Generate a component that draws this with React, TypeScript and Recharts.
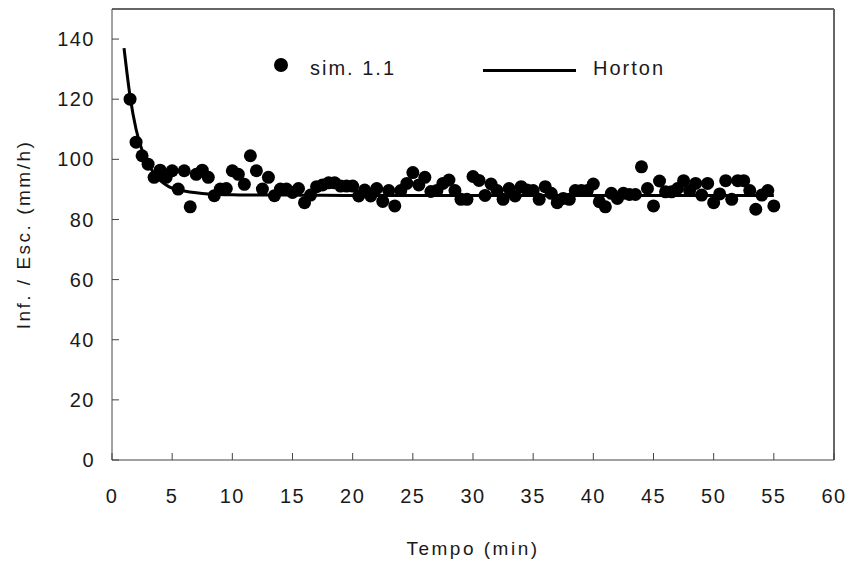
import {
  ComposedChart,
  Scatter,
  Line,
  XAxis,
  YAxis,
  ReferenceLine,
  Legend,
} from 'recharts'

// simulated infiltration rate, one reading every half minute
const simTime = [
  1.5, 2, 2.5, 3, 3.5, 4, 4.5, 5, 5.5, 6, 6.5, 7, 7.5, 8, 8.5, 9, 9.5, 10,
  10.5, 11, 11.5, 12, 12.5, 13, 13.5, 14, 14.5, 15, 15.5, 16, 16.5, 17, 17.5,
  18, 18.5, 19, 19.5, 20, 20.5, 21, 21.5, 22, 22.5, 23, 23.5, 24, 24.5, 25,
  25.5, 26, 26.5, 27, 27.5, 28, 28.5, 29, 29.5, 30, 30.5, 31, 31.5, 32, 32.5,
  33, 33.5, 34, 34.5, 35, 35.5, 36, 36.5, 37, 37.5, 38, 38.5, 39, 39.5, 40,
  40.5, 41, 41.5, 42, 42.5, 43, 43.5, 44, 44.5, 45, 45.5, 46, 46.5, 47, 47.5,
  48, 48.5, 49, 49.5, 50, 50.5, 51, 51.5, 52, 52.5, 53, 53.5, 54, 54.5, 55,
]
const simRate = [
  120, 105.7, 101.2, 98.4, 94, 96.4, 94, 96.2, 90.1, 96.2, 84.2, 95, 96.4, 94,
  87.9, 90.1, 90.3, 96.2, 95, 91.7, 101.2, 96.2, 90.1, 94, 87.9, 90.1, 90.1,
  89, 90.3, 85.6, 88.1, 90.9, 91.5, 92.2, 92.2, 91.1, 91.1, 91.1, 87.8, 89.8,
  87.8, 90.3, 86, 89.6, 84.5, 89.6, 92, 95.6, 91.5, 94, 89.3, 89.6, 92, 93.1,
  89.6, 86.7, 86.7, 94.3, 93, 88, 91.8, 89.6, 86.7, 90.3, 87.8, 90.9, 89.8,
  89.6, 86.7, 90.9, 88.7, 85.6, 87, 86.7, 89.6, 89.6, 89.6, 91.8, 85.9, 84.2,
  88.7, 87, 88.7, 88.3, 88.3, 97.5, 90.3, 84.5, 92.8, 89.2, 89.2, 90.3, 92.9,
  89.6, 92, 88.1, 92, 85.6, 88.5, 92.9, 86.7, 92.9, 92.9, 89.6, 83.4, 88.1,
  89.6, 84.5,
]

// fitted Horton curve
const hortonTime = [1, 1.5, 2, 2.5, 3, 3.5, 4, 4.5, 5, 6, 7, 8, 9, 10, 12, 15, 20, 30, 40, 55]
const hortonRate = [
  137, 121, 110, 103, 98.5, 95.3, 93, 91.5, 90.4, 89.5, 88.9, 88.5, 88.3, 88.2,
  88.1, 88.1, 88, 88, 88, 88,
]

const xTicks = [0, 5, 10, 15, 20, 25, 30, 35, 40, 45, 50, 55, 60]
const yTicks = [0, 20, 40, 60, 80, 100, 120, 140]

const simData = simTime.map((x, i) => ({ x, y: simRate[i] }))
const hortonData = hortonTime.map((x, i) => ({ x, y: hortonRate[i] }))

const FONT = "'Liberation Sans Narrow', 'Arial Narrow', 'Liberation Sans', Arial, sans-serif"
const tickStyle = { fontFamily: FONT, fontSize: 20, fill: '#1a1a1a', letterSpacing: 1.5 }
const titleStyle = { ...tickStyle, fontSize: 19, letterSpacing: 2.5 }

const Dot = ({ cx, cy }: any) => <circle cx={cx} cy={cy} r={6.5} fill="#000" />

const ChartLegend = () => (
  <div
    style={{
      position: 'relative',
      width: 420,
      height: 26,
      fontFamily: FONT,
      fontSize: 20,
      letterSpacing: 2,
      lineHeight: '26px',
      color: '#1a1a1a',
      whiteSpace: 'nowrap',
    }}
  >
    <div style={{ position: 'absolute', left: 6, top: 3, width: 14, height: 14, borderRadius: '50%', background: '#000' }} />
    <span style={{ position: 'absolute', left: 42, top: 0 }}>sim. 1.1</span>
    <div style={{ position: 'absolute', left: 215, top: 13.5, width: 93, height: 3, background: '#000' }} />
    <span style={{ position: 'absolute', left: 325, top: 0 }}>Horton</span>
  </div>
)

const YTitle = ({ viewBox }: any) => (
  <text
    x={viewBox.x - 29}
    y={viewBox.y + viewBox.height / 2}
    transform={`rotate(-90 ${viewBox.x - 29} ${viewBox.y + viewBox.height / 2})`}
    textAnchor="middle"
    dominantBaseline="central"
    style={titleStyle}
  >
    Inf. / Esc. (mm/h)
  </text>
)

const XTitle = ({ viewBox }: any) => (
  <text
    x={viewBox.x + viewBox.width / 2}
    y={viewBox.y + 88}
    textAnchor="middle"
    dominantBaseline="central"
    style={titleStyle}
  >
    Tempo (min)
  </text>
)

export default function App() {
  return (
    <div style={{ position: 'absolute', left: 0, top: 0, background: '#fff' }}>
      <ComposedChart
        width={852}
        height={565}
        margin={{ top: 9, right: 18, bottom: 45, left: 52 }}
      >
        <XAxis
          type="number"
          dataKey="x"
          domain={[0, 60]}
          ticks={xTicks}
          interval={0}
          height={60}
          stroke="#444"
          tickSize={-7}
          tickMargin={36}
          tick={tickStyle}
          label={<XTitle />}
        />
        <YAxis
          type="number"
          dataKey="y"
          domain={[0, 150]}
          ticks={yTicks}
          interval={0}
          width={60}
          stroke="#444"
          tickSize={-7}
          tickMargin={24}
          tick={tickStyle}
          label={<YTitle />}
        />
        <ReferenceLine y={150} stroke="#666" strokeWidth={2} />
        <ReferenceLine x={60} stroke="#666" strokeWidth={2} />
        <Scatter
          name="sim. 1.1"
          data={simData}
          dataKey="y"
          shape={<Dot />}
          isAnimationActive={false}
        />
        <Line
          name="Horton"
          data={hortonData}
          dataKey="y"
          type="monotone"
          stroke="#000"
          strokeWidth={3}
          dot={false}
          activeDot={false}
          isAnimationActive={false}
        />
        <Legend
          layout="vertical"
          align="center"
          verticalAlign="middle"
          content={<ChartLegend />}
          wrapperStyle={{ top: 55, left: 268, width: 'auto' }}
        />
      </ComposedChart>
    </div>
  )
}
